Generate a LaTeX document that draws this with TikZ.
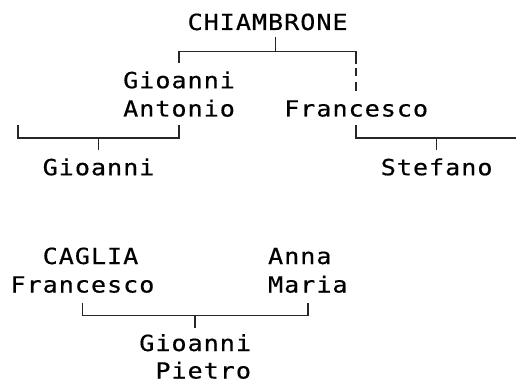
\documentclass[tikz,border=0pt]{standalone}
\usepackage{fontspec}
\newfontfamily\gridfont[FakeStretch=1.13,FakeBold=0.5]{DejaVu Sans Mono}
\newcommand\gridtext[1]{\gridloop#1\relax}
\def\gridloop#1{\ifx#1\relax\else\makebox[16.1pt][c]{#1}\expandafter\gridloop\fi}
\tikzset{
  person/.style={anchor=base west, inner sep=0pt, outer sep=0pt,
    font=\gridfont\fontsize{22.2pt}{26pt}\selectfont, text=black},
  link/.style={line width=1.6pt, draw=black!85, line cap=butt},
  dashlink/.style={link, dash pattern=on 8.5pt off 6pt}
}
\begin{document}
\begin{tikzpicture}[x=1pt,y=-1pt]
\useasboundingbox (0,0) rectangle (516,382);
% --- top family ---
\node[person] (chiam) at (187.1,30) {\gridtext{CHIAMBRONE}};
\node[person] (ga1) at (122.7,88.2) {\gridtext{Gioanni}};
\node[person] (ga2) at (122.7,116.5) {\gridtext{Antonio}};
\node[person] (fr) at (283.7,116.5) {\gridtext{Francesco}};
\node[person] (gio) at (42.2,175.2) {\gridtext{Gioanni}};
\node[person] (stef) at (380.3,175.2) {\gridtext{Stefano}};
% bracket under CHIAMBRONE
\coordinate (j0t) at (275.65,37.5);
\coordinate (j0) at (275.65,51.7);
\coordinate (j0l) at (179.05,51.7);
\coordinate (j0ld) at (179.05,63.5);
\coordinate (j0r) at (356.15,51.7);
\coordinate (j0rd) at (356.15,64);
\coordinate (j0rs) at (356.15,68);
\coordinate (j0re) at (356.15,92);
\draw[link] (j0t) -- (j0);
\draw[link] (j0ld) -- (j0l) -- (j0r) -- (j0rd);
\draw[dashlink] (j0rs) -- (j0re);
% bracket under Gioanni Antonio
\coordinate (j1r) at (179.05,125.5);
\coordinate (j1rc) at (179.05,138);
\coordinate (j1l) at (18.05,125.5);
\coordinate (j1lc) at (18.05,138);
\coordinate (j1) at (98.55,138);
\coordinate (j1d) at (98.55,150.5);
\draw[link] (j1r) -- (j1rc) -- (j1lc) -- (j1l);
\draw[link] (j1) -- (j1d);
% bracket under Francesco
\coordinate (j2l) at (356.15,125.5);
\coordinate (j2lc) at (356.15,138);
\coordinate (j2e) at (517,138);
\coordinate (j2) at (436.65,138);
\coordinate (j2d) at (436.65,150.5);
\draw[link] (j2l) -- (j2lc) -- (j2e);
\draw[link] (j2) -- (j2d);
% --- bottom family ---
\node[person] (cag1) at (42.2,264) {\gridtext{CAGLIA}};
\node[person] (cag2) at (10,292.5) {\gridtext{Francesco}};
\node[person] (am1) at (267.6,264) {\gridtext{Anna}};
\node[person] (am2) at (267.6,292.5) {\gridtext{Maria}};
\node[person] (gp1) at (138.8,351) {\gridtext{Gioanni}};
\node[person] (gp2) at (154.9,378.5) {\gridtext{Pietro}};
\coordinate (j3l) at (82.45,302.5);
\coordinate (j3lc) at (82.45,315.5);
\coordinate (j3r) at (307.85,302.5);
\coordinate (j3rc) at (307.85,315.5);
\coordinate (j3) at (195.15,315.5);
\coordinate (j3d) at (195.15,328);
\draw[link] (j3l) -- (j3lc) -- (j3rc) -- (j3r);
\draw[link] (j3) -- (j3d);
\end{tikzpicture}
\end{document}
